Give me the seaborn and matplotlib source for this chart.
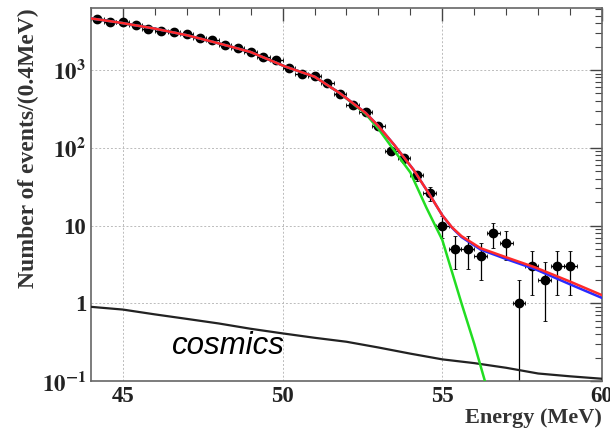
import numpy as np
import seaborn as sns
import matplotlib
matplotlib.use("Agg")
import matplotlib.pyplot as plt
from matplotlib.ticker import FixedLocator, LogLocator, NullFormatter

# data: 0.4 MeV bins
energy = [44.2, 44.6, 45.0, 45.4, 45.8, 46.2, 46.6, 47.0, 47.4, 47.8,
          48.2, 48.6, 49.0, 49.4, 49.8, 50.2, 50.6, 51.0, 51.4, 51.8,
          52.2, 52.6, 53.0, 53.4, 53.8, 54.2, 54.6, 55.0, 55.4, 55.8,
          56.2, 56.6, 57.0, 57.4, 57.8, 58.2, 58.6, 59.0]
counts = [4500, 4170, 4100, 3780, 3360, 3170, 3050, 2870, 2600, 2430,
          2090, 1900, 1710, 1480, 1340, 1070, 900, 840, 670, 485,
          353, 290, 190, 90, 73, 44, 26, 10, 5, 5,
          4, 8, 6, 1, 3, 2, 3, 3]

# fit curves
fit_e = [44.0, 44.5, 45.0, 46.0, 47.0, 48.0, 49.0, 49.6, 50.1, 51.0, 51.8,
         52.6, 53.0, 53.5, 54.1, 54.6, 55.0, 55.3, 55.6, 56.2, 57.0, 57.9,
         59.0, 60.0]
total_fit = [4600, 4300, 4000, 3400, 2800, 2200, 1700, 1340, 1100, 820, 500,
             280, 190, 108, 52, 25, 13.5, 9.5, 7.3, 5.1, 3.9, 2.9, 1.9, 1.27]
bkg_fit = [4600, 4300, 4000, 3400, 2800, 2200, 1700, 1340, 1100, 820, 500,
           280, 190, 108, 52, 25, 13.5, 9.4, 7.1, 4.9, 3.7, 2.75, 1.75, 1.17]

main_e = [44.0, 44.5, 45.0, 46.0, 47.0, 48.0, 49.0, 49.6, 50.1, 51.0, 51.8,
          52.6, 53.0, 53.4, 54.0, 54.5, 55.0, 55.6, 56.0, 56.4]
main_fit = [4600, 4300, 4000, 3400, 2800, 2200, 1700, 1340, 1100, 820, 500,
            272, 175, 104, 48, 17, 6.5, 1.0, 0.3, 0.08]

cos_e = [44, 45, 46, 47, 48, 49, 50, 51, 52, 53, 54, 55, 56, 57, 58, 59, 60]
cosmics = [0.9, 0.83, 0.72, 0.63, 0.55, 0.47, 0.41, 0.36, 0.32, 0.27,
           0.225, 0.19, 0.17, 0.148, 0.125, 0.115, 0.107]

sns.set_style("white")
plt.rcParams["font.family"] = ["Liberation Serif", "DejaVu Serif"]
plt.rcParams["mathtext.fontset"] = "stix"

fig = plt.figure(figsize=(6.1, 4.33), dpi=100)
ax = fig.add_axes([0.149, 0.12, 0.838, 0.8615])

cnt = np.array(counts, dtype=float)
ax.errorbar(energy, counts, yerr=np.sqrt(cnt), xerr=0.2, fmt="o",
            color="black", ms=6, elinewidth=0.9, capsize=1.5, capthick=0.6,
            zorder=2)

sns.lineplot(x=cos_e, y=cosmics, color="#222222", lw=1.6, ax=ax, zorder=3)
sns.lineplot(x=main_e, y=main_fit, color="#22dd22", lw=1.8, ax=ax, zorder=3)
sns.lineplot(x=fit_e, y=bkg_fit, color="#2a2aff", lw=1.8, ax=ax, zorder=4)
sns.lineplot(x=fit_e, y=total_fit, color="#ff2a2a", lw=1.8, ax=ax, zorder=5)

ax.set_yscale("log")
ax.set_xlim(44, 60)
ax.set_ylim(0.1, 6260)

ax.xaxis.set_major_locator(FixedLocator([45, 50, 55, 60]))
ax.xaxis.set_minor_locator(FixedLocator(range(44, 61)))
ax.set_xticklabels(["45", "50", "55", "60"])
ax.yaxis.set_major_locator(FixedLocator([0.1, 1, 10, 100, 1000]))
ax.set_yticklabels([r"$\mathbf{10^{-1}}$", "1", "10",
                    r"$\mathbf{10^{2}}$", r"$\mathbf{10^{3}}$"])
ax.yaxis.set_minor_locator(LogLocator(base=10, subs=np.arange(2, 10)))
ax.yaxis.set_minor_formatter(NullFormatter())

ax.tick_params(which="both", direction="in", top=True, right=True,
               colors="#444444", labelcolor="#222222")
ax.tick_params(which="major", length=9, width=1.0, labelsize=16.5)
ax.tick_params(which="minor", length=5, width=0.8)
for lab in ax.get_xticklabels() + ax.get_yticklabels():
    lab.set_fontweight("bold")

ax.grid(True, which="major", ls=(0, (2, 2)), color="#bbbbbb", lw=0.7)
for s in ax.spines.values():
    s.set_color("#666666")
    s.set_linewidth(1.2)

ax.set_xlabel("Energy (MeV)", loc="right", fontsize=16, fontweight="bold",
              color="#333333", labelpad=1)
ax.set_ylabel("Number of events/(0.4MeV)", loc="top", fontsize=17,
              fontweight="bold", color="#333333", labelpad=2)

ax.text(46.54, 0.22, "cosmics", fontsize=22.5, style="italic",
        family="Liberation Sans", color="black")

fig.savefig("out.png", dpi=100)
